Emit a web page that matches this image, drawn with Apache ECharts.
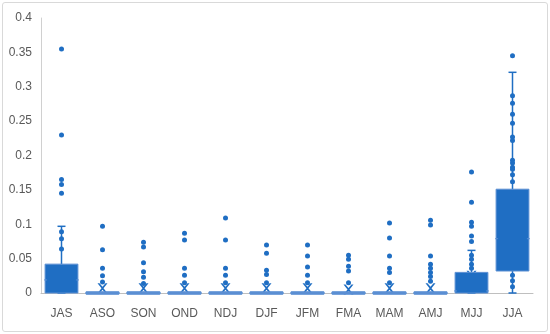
<!DOCTYPE html>
<html>
<head>
<meta charset="utf-8">
<script src="https://cdn.jsdelivr.net/npm/echarts@6/dist/echarts.min.js"></script>
<style>
  html, body { margin: 0; padding: 0; background: #fff; }
  #chart { width: 550px; height: 334px; }
  #frame { position: absolute; left: 2px; top: 2px; width: 544px; height: 328px;
           border: 1px solid #d9d9d9; border-radius: 3px; pointer-events: none; }
</style>
</head>
<body>
<div id="chart"></div>
<div id="frame"></div>
<script>
// seasons (3-month windows)
var categories = ['JAS', 'ASO', 'SON', 'OND', 'NDJ', 'DJF', 'JFM', 'FMA', 'MAM', 'AMJ', 'MJJ', 'JJA']

// box stats per season: [min, q1, median, q3, max]
var boxStats = [
  [0, 0, 0.019, 0.042, 0.097],
  [0, 0, 0, 0, 0],
  [0, 0, 0, 0, 0],
  [0, 0, 0, 0, 0],
  [0, 0, 0, 0, 0],
  [0, 0, 0, 0, 0],
  [0, 0, 0, 0, 0],
  [0, 0, 0, 0, 0],
  [0, 0, 0, 0, 0],
  [0, 0, 0, 0, 0],
  [0, 0, 0.003, 0.030, 0.062],
  [0, 0.032, 0.079, 0.151, 0.321]
]

// mean markers (x)
var means = [0.03, 0.007, 0.007, 0.007, 0.007, 0.007, 0.007, 0.005, 0.007, 0.007, 0.025, 0.1]

// individual points (inner + outliers) per season
var points = [
  [0.355, 0.23, 0.165, 0.158, 0.145, 0.089, 0.079, 0.064],
  [0.097, 0.063, 0.036, 0.025, 0.016],
  [0.074, 0.067, 0.044, 0.031, 0.023, 0.014],
  [0.087, 0.077, 0.036, 0.026, 0.015],
  [0.109, 0.077, 0.036, 0.026, 0.015],
  [0.070, 0.058, 0.033, 0.027, 0.015],
  [0.070, 0.054, 0.038, 0.026, 0.015],
  [0.055, 0.049, 0.039, 0.032, 0.015],
  [0.102, 0.080, 0.054, 0.036, 0.030, 0.015],
  [0.106, 0.099, 0.054, 0.042, 0.036, 0.030, 0.024, 0.017],
  [0.176, 0.132, 0.103, 0.097, 0.083, 0.075, 0.055, 0.049, 0.042, 0.036],
  [0.345, 0.287, 0.276, 0.260, 0.247, 0.227, 0.222, 0.193, 0.183, 0.189, 0.180, 0.172, 0.162, 0.026, 0.018, 0.009]
]

var blue = '#1F6EC3'
var edge = '#5B8FD3'

var boxData = boxStats.map(function (b, i) { return [i].concat(b) })
var meanData = means.map(function (m, i) { return [i, m] })
var pointData = []
points.forEach(function (arr, i) {
  arr.forEach(function (v) { pointData.push([i, v]) })
})

function renderBox(params, api) {
  var i = api.value(0)
  var pMin = api.coord([i, api.value(1)])
  var pQ1 = api.coord([i, api.value(2)])
  var pMed = api.coord([i, api.value(3)])
  var pQ3 = api.coord([i, api.value(4)])
  var pMax = api.coord([i, api.value(5)])
  var w = api.size([1, 0])[0] * 0.8
  var x = pQ1[0]
  var cap = 4
  var flat = pQ1[1] - pQ3[1] < 1
  var h = flat ? 2.5 : pQ1[1] - pQ3[1]
  var y0 = flat ? pQ1[1] - 1.25 : pQ3[1]
  var style = { stroke: blue, lineWidth: 1.5 }
  var children = [
    { type: 'line', shape: { x1: x, y1: pQ3[1], x2: x, y2: pMax[1] }, style: style },
    { type: 'line', shape: { x1: x, y1: pQ1[1], x2: x, y2: pMin[1] }, style: style },
    { type: 'line', shape: { x1: x - cap, y1: pMax[1], x2: x + cap, y2: pMax[1] }, style: style },
    { type: 'line', shape: { x1: x - cap, y1: pMin[1], x2: x + cap, y2: pMin[1] }, style: style },
    { type: 'rect', shape: { x: x - w / 2, y: y0, width: w, height: h },
      style: { fill: flat ? edge : blue, stroke: edge, lineWidth: 1 } },
    { type: 'line', shape: { x1: x - w / 2 - 1, y1: pMed[1], x2: x - w / 2 + 2, y2: pMed[1] },
      style: { stroke: edge, lineWidth: 1 } },
    { type: 'line', shape: { x1: x + w / 2 - 2, y1: pMed[1], x2: x + w / 2 + 1, y2: pMed[1] },
      style: { stroke: edge, lineWidth: 1 } }
  ]
  return { type: 'group', children: children }
}

var chart = echarts.init(document.getElementById('chart'))
chart.setOption({
  animation: false,
  grid: { left: 41, right: 17, top: 18, bottom: 41 },
  xAxis: {
    type: 'category',
    data: categories,
    axisLine: { lineStyle: { color: '#bfbfbf' } },
    axisTick: { show: false },
    axisLabel: { color: '#595959', fontSize: 12, fontFamily: 'Liberation Sans', margin: 15 }
  },
  yAxis: {
    type: 'value',
    min: 0,
    max: 0.4,
    interval: 0.05,
    axisLine: { show: true, lineStyle: { color: '#d0d0d0' } },
    axisTick: { show: false },
    splitLine: { show: false },
    axisLabel: { color: '#595959', fontSize: 12, fontFamily: 'Liberation Sans', margin: 9 }
  },
  series: [
    {
      type: 'custom',
      renderItem: renderBox,
      data: boxData,
      encode: { x: 0, y: [1, 2, 3, 4, 5] },
      z: 4
    },
    {
      type: 'scatter',
      data: meanData,
      symbol: 'path://M0,0 L2,0 L5,3.5 L8,0 L10,0 L6,5 L10,10 L8,10 L5,6.5 L2,10 L0,10 L4,5 Z',
      symbolSize: 10,
      itemStyle: { color: blue, opacity: 1 },
      z: 3
    },
    {
      type: 'scatter',
      data: pointData,
      symbolSize: 5,
      itemStyle: { color: blue, opacity: 1 },
      z: 5
    }
  ]
})
</script>
</body>
</html>
